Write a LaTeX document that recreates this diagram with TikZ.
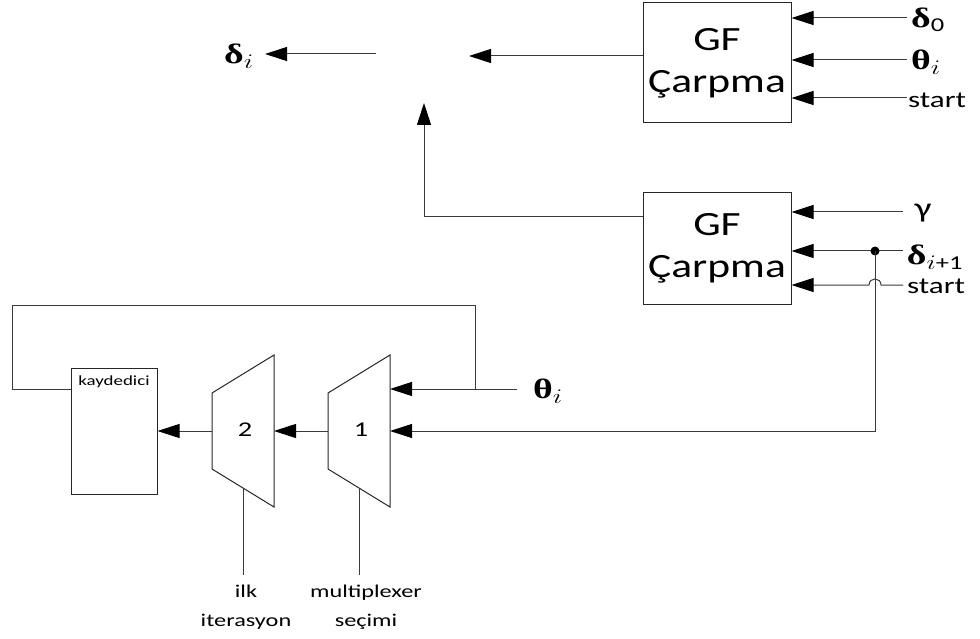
\documentclass[tikz,border=0pt]{standalone}
\usepackage{fontspec}
\usepackage{graphicx}
\setmainfont{Carlito}
\newfontfamily\grkfont{Liberation Serif}
\usetikzlibrary{arrows.meta,positioning}
\definecolor{wiregray}{HTML}{3A3A3A}
\newcommand{\wide}[1]{\scalebox{1.35}[1]{#1}}
\newcommand{\gfwide}[1]{\scalebox{1.28}[1]{#1}}
\newcommand{\gsym}[2]{\wide{{\grkfont\bfseries #1}\textsubscript{#2}}}
\tikzset{
  wire/.style={draw=wiregray, line width=1pt},
  sig/.style={wire, -{Triangle[length=22pt,width=14pt,color=black]}},
  gfbox/.style={draw=black!85, line width=1pt, minimum width=148pt, align=center, inner sep=0pt, font=\fontsize{34}{38}\selectfont},
  regbox/.style={draw=black!85, line width=1pt, minimum width=86pt, minimum height=126pt},
  muxshape/.style={draw=black!85, line width=1pt},
  lbl/.style={inner sep=0pt, font=\fontsize{23}{26}\selectfont},
  glbl/.style={inner sep=0pt, font=\fontsize{28}{30}\selectfont},
  small/.style={inner sep=0pt, font=\fontsize{18}{20}\selectfont, align=center}
}
\begin{document}
\begin{tikzpicture}[x=1pt,y=-1pt]
\useasboundingbox (0,0) rectangle (980,639);

% GF multipliers
\node[gfbox, minimum height=120pt] (gfA) at (717,63) {\gfwide{GF}\\[4pt]\gfwide{Çarpma}};
\node[gfbox, minimum height=111pt] (gfB) at (717,248.5) {\gfwide{GF}\\[4pt]\gfwide{Çarpma}};

% inputs of upper multiplier
\coordinate (a1) at (907,18);
\coordinate (a2) at (907,60);
\coordinate (a3) at (907,98);
\draw[sig] (a1) -- (a1 -| gfA.east);
\draw[sig] (a2) -- (a2 -| gfA.east);
\draw[sig] (a3) -- (a3 -| gfA.east);
\node[glbl] (dZero) at (928,20) {\gsym{δ}{0}};
\node[glbl] (thA) at (926,62) {\gsym{θ}{$i$}};
\node[lbl] (stA) at (937,100) {\wide{start}};

% outputs
\coordinate (gapR) at (469,56);
\coordinate (gapL) at (376,54);
\draw[sig] (gfA.west |- gapR) -- (gapR);
\node[glbl, anchor=east] (dI) at (254,56) {\gsym{δ}{$i$}};
\draw[sig] (gapL) -- ([xshift=11pt]dI.east |- gapL);
\coordinate (upB) at (424,217);
\coordinate (upT) at (424,103);
\draw[sig] (gfB.west |- upB) -- (upB) -- (upT);

% inputs of lower multiplier
\coordinate (b1) at (903,212);
\coordinate (b2) at (903,251);
\coordinate (b3) at (903,285);
\coordinate (tap) at (875,251);
\draw[sig] (b1) -- (b1 -| gfB.east);
\draw[sig] (b2) -- (b2 -| gfB.east);
\draw[sig] (b3) -- (881,285) .. controls (881,277) and (869,277) .. (869,285) -- (b3 -| gfB.east);
\fill (tap) circle[radius=4.5pt];
\node[glbl] (gam) at (923,213) {\wide{γ}};
\node[glbl] (dNext) at (935,257) {\gsym{δ}{$i$+1}};
\node[lbl] (stB) at (936,286) {\wide{start}};

% register and multiplexers
\node[regbox] (kayd) at (114,431) {};
\node[inner sep=0pt, font=\fontsize{14}{16}\selectfont, below=8pt of kayd.north] (kaydtxt) {\wide{kaydedici}};
\foreach \x/\n in {212/2,328/1}{
  \draw[muxshape] (\x,393) -- ++(62,-38) -- ++(0,152) -- ++(-62,-38) -- cycle;
  \node[inner sep=0pt, font=\fontsize{21}{24}\selectfont] (mux\n) at (\x+33,430) {\wide{\n}};
  \coordinate (mux\n-in) at (\x+62,431);
  \coordinate (mux\n-out) at (\x,431);
  \coordinate (mux\n-sel) at (\x+31,488);
}
\coordinate (mux1-inA) at (390,389);
\draw[sig] (mux1-out) -- (mux2-in);
\draw[sig] (mux2-out) -- (kayd.east |- mux2-out);

% theta input and feedback loop
\coordinate (thS) at (517,389);
\coordinate (fbA) at (475,389);
\coordinate (fbTop) at (12,305);
\draw[sig] (thS) -- (mux1-inA);
\node[glbl] (thB) at (548,391) {\gsym{θ}{$i$}};
\draw[wire] (fbA) |- (fbTop) |- (kayd.west |- fbA);
\draw[sig] (tap) -- (tap |- mux1-in) -- (mux1-in);

% select lines
\draw[wire] (mux2-sel) -- ++(0,87);
\draw[wire] (mux1-sel) -- ++(0,87);
\node[small] (selA) at (246,607) {\wide{ilk}\\[9pt]\wide{iterasyon}};
\node[small] (selB) at (366,607) {\wide{multiplexer}\\[9pt]\wide{seçimi}};
\end{tikzpicture}
\end{document}
